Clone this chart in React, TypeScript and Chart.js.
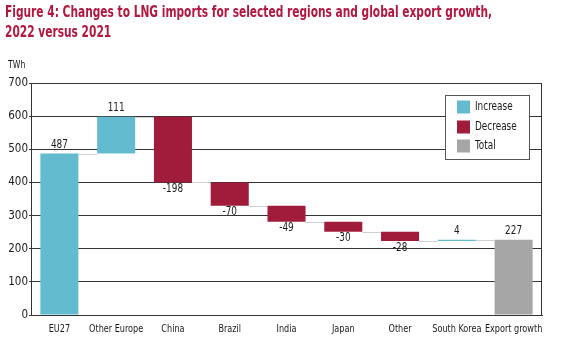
import React, { useEffect, useRef } from "react";
import { Chart, registerables } from "chart.js";

Chart.register(...registerables);

const titleLines = [
  "Figure 4: Changes to LNG imports for selected regions and global export growth,",
  "2022 versus 2021",
];
const unitLabel = "TWh";
const categories = [
  "EU27",
  "Other Europe",
  "China",
  "Brazil",
  "India",
  "Japan",
  "Other",
  "South Korea",
  "Export growth",
];
const changes = [487, 111, -198, -70, -49, -30, -28, 4, 227];
const kinds = [
  "increase",
  "increase",
  "decrease",
  "decrease",
  "decrease",
  "decrease",
  "decrease",
  "increase",
  "total",
];
const legendItems = ["Increase", "Decrease", "Total"];
const yMin = 0;
const yMax = 700;
const yStep = 100;

const COLORS: Record<string, string> = {
  increase: "#62BBCF",
  decrease: "#A11C3A",
  total: "#A6A6A6",
};
const TITLE_COLOR = "#B3173E";
const TEXT_COLOR = "#1a1a1a";
const FONT = '"DejaVu Sans Condensed", "DejaVu Sans", sans-serif';

function buildFloating() {
  let running = 0;
  const out: [number, number][] = [];
  changes.forEach((v, i) => {
    if (kinds[i] === "total") {
      out.push([0, v]);
      running = v;
    } else {
      out.push([running, running + v]);
      running += v;
    }
  });
  return out;
}

function drawText(
  ctx: CanvasRenderingContext2D,
  text: string,
  x: number,
  y: number,
  sx: number,
  align: "left" | "center" | "right"
) {
  ctx.save();
  ctx.translate(x, y);
  ctx.scale(sx, 1);
  ctx.textAlign = align;
  ctx.fillText(text, 0, 0);
  ctx.restore();
}

export default function App() {
  const ref = useRef<HTMLCanvasElement>(null);
  useEffect(() => {
    if (!ref.current) return;
    const floating = buildFloating();
    const SX = 0.86;

    const decorations = {
      id: "decorations",
      beforeDraw(chart: any) {
        const ctx = chart.ctx;
        ctx.save();
        ctx.fillStyle = "#ffffff";
        ctx.fillRect(0, 0, chart.width, chart.height);
        ctx.fillStyle = TITLE_COLOR;
        ctx.font = `bold 15px ${FONT}`;
        ctx.textBaseline = "alphabetic";
        const w = ctx.measureText(titleLines[0]).width;
        const tsx = 487 / w;
        drawText(ctx, titleLines[0], 5, 17, tsx, "left");
        drawText(ctx, titleLines[1], 5, 37, tsx, "left");
        ctx.fillStyle = TEXT_COLOR;
        ctx.font = `10px ${FONT}`;
        drawText(ctx, unitLabel, 8, 68, SX, "left");
        ctx.restore();
      },
      afterDatasetsDraw(chart: any) {
        const ctx = chart.ctx;
        const meta = chart.getDatasetMeta(0);
        const y = chart.scales.y;
        const x = chart.scales.x;
        const area = chart.chartArea;
        ctx.save();
        // connectors
        ctx.strokeStyle = "#cfcfcf";
        ctx.lineWidth = 1;
        for (let i = 0; i < floating.length - 1; i++) {
          const level = floating[i][1];
          const a = meta.data[i];
          const b = meta.data[i + 1];
          const py = Math.round(y.getPixelForValue(level)) + 0.5;
          ctx.beginPath();
          ctx.moveTo(a.x + a.width / 2, py);
          ctx.lineTo(b.x - b.width / 2, py);
          ctx.stroke();
        }
        // border
        ctx.strokeStyle = "#333";
        ctx.beginPath();
        ctx.moveTo(area.left, area.top + 0.5);
        ctx.lineTo(area.right - 0.5, area.top + 0.5);
        ctx.lineTo(area.right - 0.5, area.bottom);
        ctx.stroke();
        // value labels
        ctx.fillStyle = TEXT_COLOR;
        ctx.font = `11.5px ${FONT}`;
        ctx.textBaseline = "middle";
        floating.forEach((f, i) => {
          const el = meta.data[i];
          const v = changes[i];
          if (v >= 0) {
            const top = y.getPixelForValue(Math.max(f[0], f[1]));
            drawText(ctx, String(v), el.x, top - 9, SX, "center");
          } else {
            const bot = y.getPixelForValue(Math.min(f[0], f[1]));
            drawText(ctx, String(v), el.x, bot + 6.5, SX, "center");
          }
        });
        // category labels
        ctx.font = `11px ${FONT}`;
        categories.forEach((c, i) => {
          drawText(ctx, c, x.getPixelForValue(i), 329, 0.82, "center");
        });
        // legend
        const lx = 445, ly = 95, lw = 84, lh = 64;
        ctx.fillStyle = "#ffffff";
        ctx.fillRect(lx, ly, lw, lh);
        ctx.strokeStyle = "#555";
        ctx.strokeRect(lx + 0.5, ly + 0.5, lw, lh);
        const rowsY = [107, 127, 146];
        const legendColors = [COLORS.increase, COLORS.decrease, COLORS.total];
        ctx.font = `11.5px ${FONT}`;
        legendItems.forEach((t, i) => {
          ctx.fillStyle = legendColors[i];
          ctx.fillRect(457, rowsY[i] - 6.5, 13, 13);
          ctx.fillStyle = TEXT_COLOR;
          drawText(ctx, t, 475, rowsY[i], SX, "left");
        });
        ctx.restore();
      },
    };

    const chart = new Chart(ref.current, {
      type: "bar",
      data: {
        labels: categories,
        datasets: [
          {
            data: floating as any,
            backgroundColor: kinds.map((k) => COLORS[k]),
            borderWidth: 0,
            barPercentage: 0.67,
            categoryPercentage: 1,
            borderSkipped: false,
          },
        ],
      },
      options: {
        animation: false,
        responsive: false,
        maintainAspectRatio: false,
        layout: { padding: { top: 83, right: 19, left: 0, bottom: 0 } },
        plugins: {
          legend: { display: false },
          tooltip: { enabled: false },
          title: { display: false },
        },
        scales: {
          x: {
            grid: { display: false, drawTicks: false },
            border: { display: true, color: "#333", width: 1 },
            ticks: { display: false },
            afterFit(scale: any) {
              scale.height = 35;
            },
          },
          y: {
            min: yMin,
            max: yMax,
            grid: { color: "#333", lineWidth: 1, drawTicks: true, tickLength: 2 },
            border: { display: true, color: "#333", width: 1 },
            ticks: {
              stepSize: yStep,
              color: TEXT_COLOR,
              font: { family: FONT, size: 11.5 },
              padding: 1,
            },
            afterFit(scale: any) {
              scale.width = 31;
            },
          },
        },
      },
      plugins: [decorations],
    });
    return () => chart.destroy();
  }, []);

  return (
    <div style={{ position: "fixed", left: 0, top: 0, width: 561, height: 350, background: "#fff" }}>
      <canvas ref={ref} width={561} height={350} style={{ display: "block" }} />
    </div>
  );
}
